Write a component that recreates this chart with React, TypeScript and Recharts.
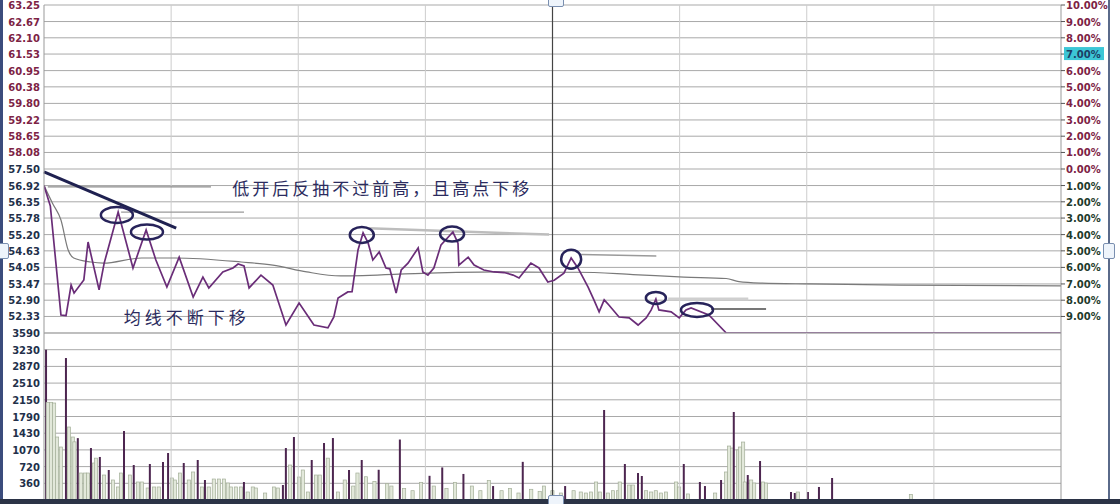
import {
  Bar,
  BarChart,
  CartesianGrid,
  Line,
  LineChart,
  ReferenceDot,
  ReferenceLine,
  XAxis,
  YAxis,
} from "recharts";

// price axis (prev close 57.50, ±10%)
const priceTicks = [63.25, 62.67, 62.1, 61.53, 60.95, 60.38, 59.8, 59.22, 58.65, 58.08, 57.5, 56.92, 56.35, 55.78, 55.2, 54.63, 54.05, 53.47, 52.9, 52.33];
const priceLabels = ["63.25", "62.67", "62.10", "61.53", "60.95", "60.38", "59.80", "59.22", "58.65", "58.08", "57.50", "56.92", "56.35", "55.78", "55.20", "54.63", "54.05", "53.47", "52.90", "52.33"];
const pctLabels = ["10.00%", "9.00%", "8.00%", "7.00%", "6.00%", "5.00%", "4.00%", "3.00%", "2.00%", "1.00%", "0.00%", "1.00%", "2.00%", "3.00%", "4.00%", "5.00%", "6.00%", "7.00%", "8.00%", "9.00%"];

// volume axis
const volTicks = [359, 718, 1077, 1436, 1795, 2154, 2513, 2872, 3231, 3590];
const volLabels = ["360", "720", "1070", "1430", "1790", "2150", "2510", "2870", "3230", "3590"];

// half-hour grid, minutes from open
const timeGrid = [30, 60, 90, 150, 180, 210];

// intraday price (minute, price)
const priceTimes = [0, 1.5, 4, 5.2, 6.4, 7.1, 9.4, 10.4, 13, 14.2, 17.5, 21, 24.1, 26.4, 29, 31.9, 35.2, 37.5, 38.9, 42.2, 44.6, 45.8, 47.2, 48.4, 51.2, 54, 57.1, 60.2, 63.7, 67, 68.4, 69.4, 71.7, 72.7, 74.1, 75.3, 76.5, 77.6, 79.1, 80.7, 81.6, 83.1, 84.3, 85.9, 88.3, 89.4, 90.6, 92, 93.7, 96.5, 97.7, 97.9, 100.1, 101.5, 103.8, 106.2, 108.6, 110.7, 112.1, 114.9, 116.8, 118.9, 120.4, 122.7, 124.4, 126, 128.4, 129.8, 131, 132.2, 133.3, 135.7, 138.1, 140.2, 142.1, 143.3, 144.4, 145.1, 148, 149.9, 151.5, 152.7, 156.9, 161, 240];
const priceValues = [56.92, 56.2, 52.38, 52.36, 53.43, 53.15, 53.61, 54.94, 53.26, 54.2, 55.99, 54.03, 55.36, 54.31, 53.36, 54.41, 53.01, 53.71, 53.33, 53.89, 54.03, 54.17, 54.1, 53.33, 53.78, 53.43, 52.03, 52.8, 52.03, 51.93, 52.31, 52.98, 53.19, 53.2, 54.66, 55.26, 54.9, 54.31, 54.59, 54.03, 54.0, 53.15, 53.96, 54.2, 54.73, 53.89, 53.78, 54.03, 54.84, 55.29, 54.9, 54.13, 54.41, 54.13, 53.96, 53.89, 53.87, 53.78, 53.68, 54.2, 54.03, 53.54, 53.6, 53.85, 54.38, 54.03, 53.36, 52.9, 52.49, 52.91, 52.73, 52.31, 52.28, 52.03, 52.28, 52.56, 52.94, 52.56, 52.49, 52.28, 52.56, 52.63, 52.38, 51.75, 51.75];

// average price line
const avgTimes = [0, 2, 4, 5.7, 7, 11, 14, 23, 31, 46.5, 54, 62, 70, 91, 107, 120, 126, 139, 151, 161, 164, 169, 181, 202, 240];
const avgValues = [56.92, 56.3, 55.71, 54.66, 54.38, 54.24, 54.2, 54.38, 54.38, 54.24, 54.13, 53.89, 53.75, 53.85, 53.89, 53.88, 53.88, 53.8, 53.71, 53.66, 53.55, 53.5, 53.47, 53.43, 53.4];

// volume (minute, lots) - light = up/flat, dark = down ticks
const volLight: [number, number][] = [
  [0.9, 2100], [1.7, 2100], [2.4, 2085], [3.1, 1354], [4.0, 1139], [5.9, 1569], [6.8, 1354], [7.2, 1250],
  [8.7, 580], [9.7, 580], [10.4, 580], [11.8, 795], [12.3, 900], [14.2, 537], [16.3, 430], [17.5, 280],
  [18.2, 580], [20.3, 537], [22.2, 387], [23.1, 387], [24.5, 258], [26.0, 280], [27.1, 280], [30.2, 473],
  [30.9, 430], [32.1, 580], [34.2, 430], [35.2, 602], [37.3, 280], [38.9, 280], [40.1, 451], [41.3, 451],
  [42.5, 451], [43.4, 365], [44.1, 280], [45.3, 280], [46.5, 280], [48.1, 172], [49.3, 280], [50.0, 258],
  [52.2, 150], [54.3, 280], [55.2, 258], [58.1, 752], [60.2, 494], [61.1, 645], [62.3, 172], [64.2, 537],
  [65.1, 537], [67.0, 900], [69.4, 172], [71, 430], [73, 300], [74, 580], [76, 500], [78, 400], [81, 350],
  [82, 300], [85, 250], [87, 200], [89, 380], [92, 300], [95, 250], [97, 380], [101, 300], [103, 200],
  [105, 420], [108, 200], [110, 250], [112, 150], [115, 230], [117, 180], [118, 300], [120, 200], [122, 150],
  [125, 200], [126.7, 172], [127.9, 150], [129.1, 172], [130.3, 387], [131.2, 172], [133.1, 150], [134.3, 200],
  [135.5, 200], [135.9, 387], [138.1, 322], [139.0, 322], [142.1, 200], [143.3, 172], [144.4, 200], [145.6, 150],
  [146.8, 172], [149.2, 387], [149.9, 280], [152.0, 130], [158.4, 150], [161.0, 602], [161.7, 1160], [162.4, 1117],
  [163.8, 1075], [164.3, 1139], [165.0, 1246], [165.4, 387], [166.9, 430], [167.6, 365], [169.7, 387], [170.4, 365],
  [177.9, 172], [204.6, 120],
];
const volDark: [number, number][] = [
  [0.5, 3230], [5.2, 3052], [8.0, 1330], [11.1, 1117], [13.2, 925], [15.3, 645], [18.9, 1483], [21.2, 752],
  [25.0, 774], [28.1, 817], [29.3, 1010], [33.0, 795], [36.3, 860], [38.0, 430], [47.2, 387], [56.4, 322],
  [57.1, 1117], [59.0, 1354], [63.2, 860], [66.1, 1225], [68.2, 1332], [72, 645], [75, 860], [79, 650],
  [84, 1300], [91, 520], [94, 700], [99, 560], [106, 300], [113, 820], [123, 300], [132.2, 1935],
  [137.1, 774], [140.2, 580], [141.1, 516], [151.0, 774], [154.8, 387], [156.0, 300], [159.8, 430],
  [162.8, 1892], [166.1, 537], [169.0, 838], [176.3, 172], [177.2, 150], [180.3, 172], [182.9, 280], [186.0, 473],
];

const priceRows = priceTimes.map((t, i) => ({ t, p: priceValues[i] }));
const avgRows = avgTimes.map((t, i) => ({ t, a: avgValues[i] }));
const volRows = [
  ...volLight.map(([t, v]) => ({ t, v, dark: false })),
  ...volDark.map(([t, v]) => ({ t, v, dark: true })),
].sort((a, b) => a.t - b.t);

// annotations
const marks = [
  { t: 17.2, p: 55.89, rx: 16, ry: 8 },
  { t: 24.3, p: 55.29, rx: 16, ry: 7.5 },
  { t: 75.0, p: 55.19, rx: 12, ry: 8 },
  { t: 96.3, p: 55.22, rx: 12, ry: 7.5 },
  { t: 124.4, p: 54.34, rx: 10, ry: 9.5 },
  { t: 144.4, p: 52.98, rx: 10, ry: 6 },
  { t: 154.1, p: 52.56, rx: 16, ry: 7 },
];
const guideLines = [
  { from: [0.9, 56.87], to: [39.4, 56.87], stroke: "#8c8c8c", w: 1.2 },
  { from: [18.2, 55.99], to: [47.2, 55.99], stroke: "#9a9a9a", w: 1.2 },
  { from: [76.5, 55.42], to: [119.2, 55.2], stroke: "#bdbdbd", w: 2.5 },
  { from: [126.8, 54.5], to: [144.5, 54.45], stroke: "#9a9a9a", w: 1.5 },
  { from: [147.3, 52.94], to: [166.2, 52.94], stroke: "#cfcfcf", w: 3 },
  { from: [157.4, 52.59], to: [170.4, 52.59], stroke: "#4a4a4a", w: 1.5 },
];

const LEFT_W = 44;
const RIGHT_W = 59;
const axisFont = "DejaVu Sans";

function PriceTick({ x, y, payload }: any) {
  const i = priceTicks.indexOf(payload.value);
  return (
    <text x={x} y={y} dy={4} textAnchor="end" fontSize={10} fontFamily={axisFont} fontWeight="bold"
      fill={payload.value > 57.5 ? "#7d2345" : "#22304a"}>
      {priceLabels[i]}
    </text>
  );
}

function PctTick({ x, y, payload }: any) {
  const i = priceTicks.indexOf(payload.value);
  if (i === 3) {
    return (
      <g>
        <rect x={x - 2} y={y - 7} width={40} height={13} fill="#3cc6d6" />
        <text x={x} y={y} dy={4} fontSize={10} fontFamily={axisFont} fontWeight="bold" fill="#1c3f66">
          {pctLabels[i]}
        </text>
      </g>
    );
  }
  return (
    <text x={x} y={y} dy={4} fontSize={10} fontFamily={axisFont} fontWeight="bold"
      fill={payload.value >= 57.5 ? "#7d2345" : "#1f3b2c"}>
      {pctLabels[i]}
    </text>
  );
}

function VolTick({ x, y, payload, right }: any) {
  const i = volTicks.indexOf(payload.value);
  if (right && i === 0) return <g />;
  return (
    <text x={x} y={y} dy={4} textAnchor={right ? "start" : "end"} fontSize={10} fontFamily={axisFont}
      fontWeight="bold" fill="#22304a">
      {volLabels[i]}
    </text>
  );
}

function VolBar(props: any) {
  const { x, y, width, height, payload } = props;
  if (!height || height <= 0) return <g />;
  const cx = x + width / 2;
  if (payload.dark) {
    return <rect x={cx - 1} y={y} width={2} height={height} fill="#4d2650" />;
  }
  return (
    <rect x={cx - 1.6} y={y} width={3.2} height={height} fill="#e2e8da" stroke="#a3ae98" strokeWidth={0.7} />
  );
}

export default function App() {
  return (
    <div style={{ position: "fixed", left: 0, top: 0, width: 1120, height: 504, background: "#fff", overflow: "hidden" }}>
      <div style={{ position: "absolute", left: 0, top: 0 }}>
        <LineChart width={1120} height={334} margin={{ top: 5, right: 0, bottom: 1, left: 0 }}>
          <CartesianGrid yAxisId="l" vertical={false} stroke="#a9a9a9" />
          <XAxis type="number" dataKey="t" domain={[0, 240]} hide allowDataOverflow />
          <YAxis yAxisId="l" domain={[51.75, 63.25]} ticks={priceTicks} interval={0} width={LEFT_W}
            tickSize={0} tickMargin={4} tick={<PriceTick />} axisLine={{ stroke: "#999" }} allowDataOverflow />
          <YAxis yAxisId="r" orientation="right" domain={[51.75, 63.25]} ticks={priceTicks} interval={0}
            width={RIGHT_W} tickSize={4} tickMargin={1} tick={<PctTick />} tickLine={{ stroke: "#555" }}
            axisLine={{ stroke: "#999" }} allowDataOverflow />
          {timeGrid.map((t) => (
            <ReferenceLine key={t} yAxisId="l" x={t} stroke="#cdcdcd" />
          ))}
          <ReferenceLine yAxisId="l" x={120} stroke="#444" strokeWidth={1.2} />
          {guideLines.map((g, i) => (
            <ReferenceLine key={"g" + i} yAxisId="l" stroke={g.stroke} strokeWidth={g.w}
              segment={[{ x: g.from[0], y: g.from[1] }, { x: g.to[0], y: g.to[1] }]} />
          ))}
          <Line yAxisId="l" data={avgRows} dataKey="a" type="monotone" stroke="#7a7a7a" strokeWidth={1.2}
            dot={false} isAnimationActive={false} />
          <Line yAxisId="l" data={priceRows} dataKey="p" type="linear" stroke="#6a2d78" strokeWidth={1.7}
            dot={false} isAnimationActive={false} />
          <ReferenceLine yAxisId="l" stroke="#1f2150" strokeWidth={3}
            segment={[{ x: 0, y: 57.4 }, { x: 31.2, y: 55.43 }]} />
          {marks.map((m, i) => (
            <ReferenceDot key={"m" + i} yAxisId="l" x={m.t} y={m.p} r={m.rx}
              shape={(p: any) => (
                <ellipse cx={p.cx} cy={p.cy} rx={m.rx} ry={m.ry} fill="none" stroke="#27235a" strokeWidth={2.5} />
              )} />
          ))}
          <ReferenceDot yAxisId="l" x={79.8} y={56.8} r={1}
            shape={(p: any) => (
              <text x={p.cx} y={p.cy} dy={6} textAnchor="middle" fontSize={17} letterSpacing={3}
                fontFamily="Noto Sans CJK SC" fill="#2b2b5e">
                低开后反抽不过前高，且高点下移
              </text>
            )} />
          <ReferenceDot yAxisId="l" x={33.7} y={52.28} r={1}
            shape={(p: any) => (
              <text x={p.cx} y={p.cy} dy={6} textAnchor="middle" fontSize={17} letterSpacing={4}
                fontFamily="Noto Sans CJK SC" fill="#2b2b5e">
                均线不断下移
              </text>
            )} />
        </LineChart>
      </div>
      <div style={{ position: "absolute", left: 0, top: 323 }}>
        <BarChart width={1120} height={181} data={volRows} margin={{ top: 10, right: 0, bottom: 4, left: 0 }}>
          <CartesianGrid yAxisId="l" vertical={false} stroke="#a9a9a9" />
          <XAxis type="number" dataKey="t" domain={[0, 240]} hide allowDataOverflow />
          <YAxis yAxisId="l" domain={[0, 3590]} ticks={volTicks} interval={0} width={LEFT_W} tickSize={0}
            tickMargin={4} tick={<VolTick />} axisLine={{ stroke: "#999" }} />
          <YAxis yAxisId="r" orientation="right" domain={[0, 3590]} ticks={volTicks} interval={0} width={RIGHT_W}
            tickSize={4} tickMargin={1} tick={<VolTick right />} tickLine={{ stroke: "#555" }}
            axisLine={{ stroke: "#999" }} />
          {timeGrid.map((t) => (
            <ReferenceLine key={t} yAxisId="l" x={t} stroke="#cdcdcd" />
          ))}
          <ReferenceLine yAxisId="l" x={120} stroke="#444" strokeWidth={1.2} />
          <Bar yAxisId="l" dataKey="v" barSize={3} shape={<VolBar />} isAnimationActive={false} />
        </BarChart>
      </div>
      <div style={{ position: "absolute", left: 0, top: 0, width: 3, height: 504, background: "#3b4c7c" }} />
      <div style={{ position: "absolute", left: 1108, top: 0, width: 2, height: 504, background: "#5a6a8a" }} />
      <div style={{ position: "absolute", left: 0, top: 499, width: 1120, height: 5, background: "#2b3346" }} />
      <div style={{ position: "absolute", left: 548, top: -3, width: 14, height: 8, border: "1px solid #7a8fb0", borderRadius: 2, background: "#eef4fb" }} />
      <div style={{ position: "absolute", left: -3, top: 243, width: 10, height: 14, border: "1px solid #7a8fb0", borderRadius: 2, background: "#eef4fb" }} />
      <div style={{ position: "absolute", left: 1103, top: 243, width: 10, height: 14, border: "1px solid #7a8fb0", borderRadius: 2, background: "#eef4fb" }} />
      <div style={{ position: "absolute", left: 548, top: 495, width: 14, height: 10, border: "1px solid #7a8fb0", borderRadius: 2, background: "#eef4fb" }} />
    </div>
  );
}
